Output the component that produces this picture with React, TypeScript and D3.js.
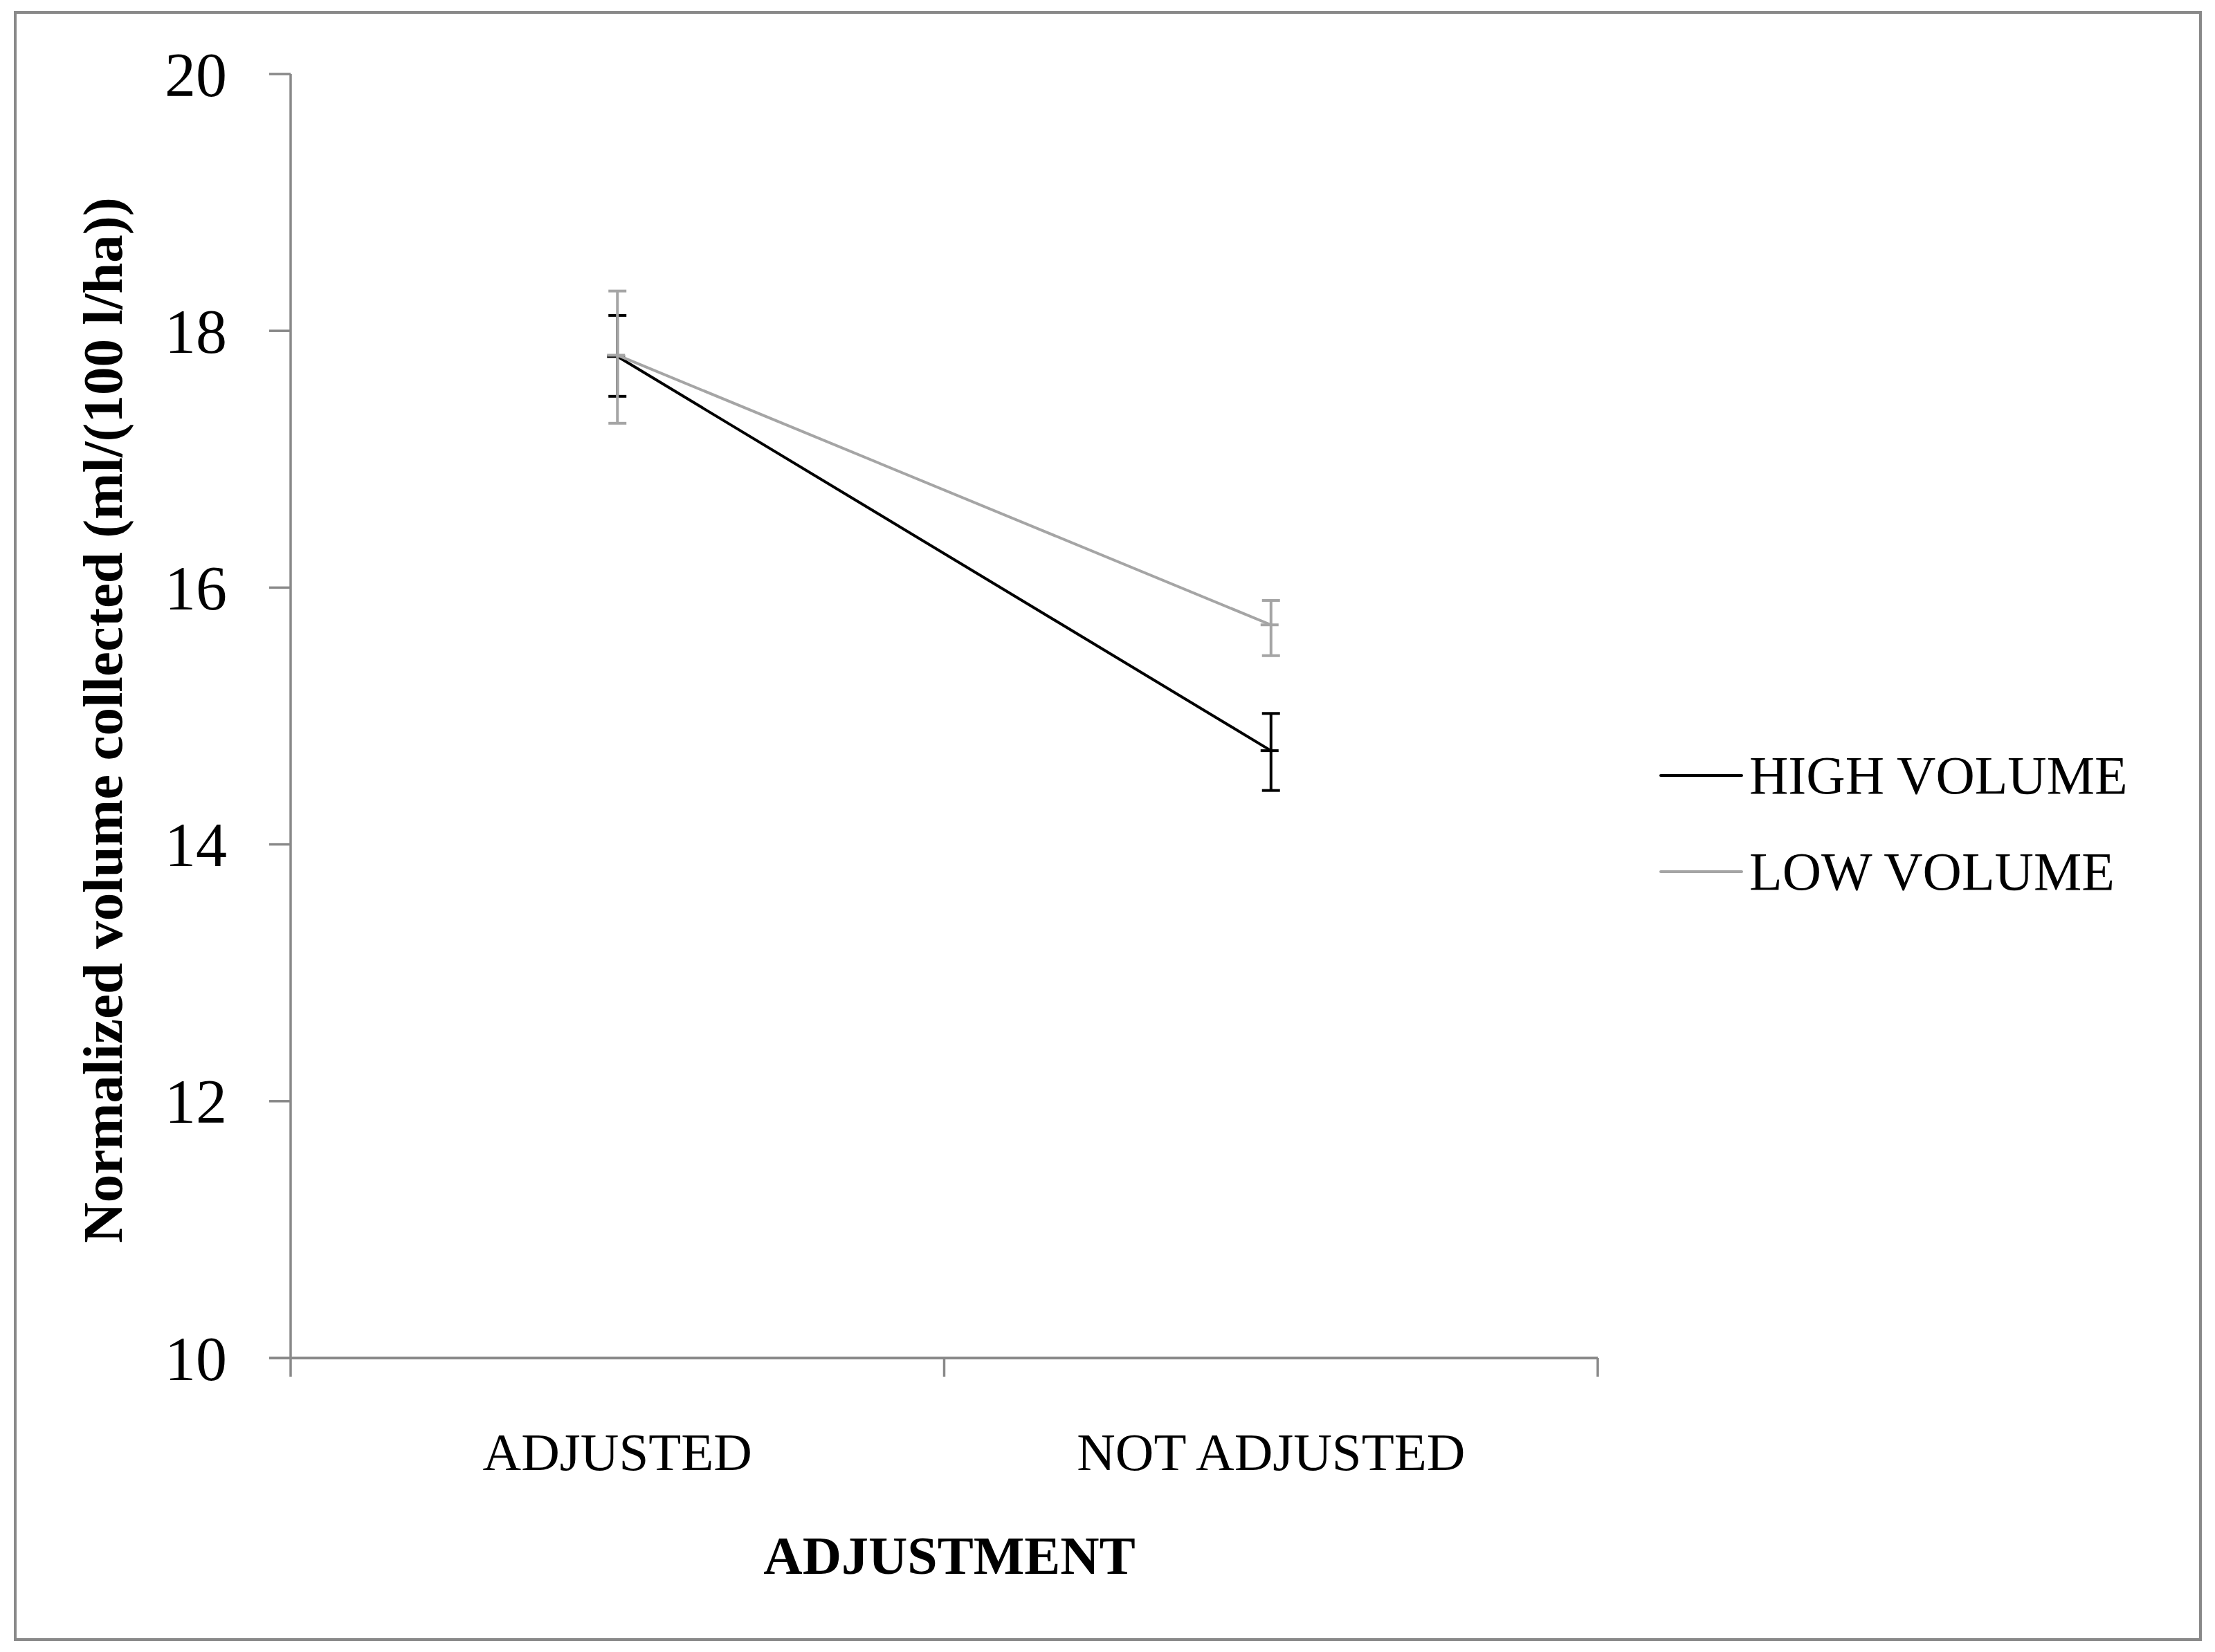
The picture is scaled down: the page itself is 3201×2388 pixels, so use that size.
import React from "react";
import * as d3 from "d3";

// chart data
const categories = ["ADJUSTED", "NOT ADJUSTED"];
const seriesNames = ["HIGH VOLUME", "LOW VOLUME"];
const highMean = [17.8, 14.73];
const highLow = [17.49, 14.42];
const highHigh = [18.12, 15.02];
const lowMean = [17.81, 15.71];
const lowLow = [17.28, 15.47];
const lowHigh = [18.31, 15.9];
const yTicks = [10, 12, 14, 16, 18, 20];

const seriesColors = ["#000000", "#a5a5a5"];
const axisColor = "#898989";

const W = 3201;
const H = 2388;
const plot = { left: 420, right: 2309, top: 107, bottom: 1963 };

export default function App() {
  const series = [
    { name: seriesNames[0], mean: highMean, lo: highLow, hi: highHigh, color: seriesColors[0] },
    { name: seriesNames[1], mean: lowMean, lo: lowLow, hi: lowHigh, color: seriesColors[1] },
  ];

  const x = d3.scaleBand<string>().domain(categories).range([plot.left, plot.right]);
  const cx = (c: string) => (x(c) ?? 0) + x.bandwidth() / 2;
  const y = d3.scaleLinear().domain([10, 20]).range([plot.bottom, plot.top]);

  const line = d3
    .line<number>()
    .x((_, i) => cx(categories[i]))
    .y((d) => y(d));

  // band edges for the category ticks
  const xTickPos = [...categories.map((c) => x(c) ?? 0), plot.right];

  const serif = "'Liberation Serif', 'DejaVu Serif', serif";
  const capW = 13;

  return (
    <div style={{ position: "absolute", left: 0, top: 0 }}>
      <svg width={W} height={H} viewBox={`0 0 ${W} ${H}`} style={{ display: "block", background: "#fff" }}>
        <rect x={22} y={18} width={3158} height={2352} fill="#fff" stroke={axisColor} strokeWidth={4} />

        {/* y axis */}
        <line x1={plot.left} x2={plot.left} y1={plot.top} y2={plot.bottom} stroke={axisColor} strokeWidth={3.5} />
        {yTicks.map((t) => (
          <g key={t}>
            <line x1={plot.left - 31} x2={plot.left} y1={y(t)} y2={y(t)} stroke={axisColor} strokeWidth={3.5} />
            <text x={328} y={y(t)} dy="0.35em" textAnchor="end" fontFamily={serif} fontSize={90} fill="#000">
              {t}
            </text>
          </g>
        ))}

        {/* x axis */}
        <line x1={plot.left - 31} x2={plot.right} y1={plot.bottom} y2={plot.bottom} stroke={axisColor} strokeWidth={4} />
        {xTickPos.map((p, i) => (
          <line key={i} x1={p} x2={p} y1={plot.bottom} y2={plot.bottom + 27} stroke={axisColor} strokeWidth={3.5} />
        ))}
        {categories.map((c) => (
          <text key={c} x={cx(c)} y={2125} textAnchor="middle" fontFamily={serif} fontSize={77} fill="#000">
            {c}
          </text>
        ))}

        {/* axis titles */}
        <text x={1372} y={2275} textAnchor="middle" fontFamily={serif} fontWeight="bold" fontSize={78} fill="#000">
          ADJUSTMENT
        </text>
        <text
          transform={`translate(176,${(plot.top + plot.bottom) / 2 + 6}) rotate(-90)`}
          textAnchor="middle"
          fontFamily={serif}
          fontWeight="bold"
          fontSize={81}
          fill="#000"
        >
          Normalized volume collected (ml/(100 l/ha))
        </text>

        {/* series: lines, error bars, dash markers */}
        {series.map((s) => (
          <g key={s.name}>
            <path d={line(s.mean) ?? ""} fill="none" stroke={s.color} strokeWidth={4} />
            {categories.map((c, i) => (
              <g key={c} stroke={s.color} strokeWidth={4}>
                <line x1={cx(c)} x2={cx(c)} y1={y(s.lo[i])} y2={y(s.hi[i])} />
                <line x1={cx(c) - capW} x2={cx(c) + capW} y1={y(s.hi[i])} y2={y(s.hi[i])} />
                <line x1={cx(c) - capW} x2={cx(c) + capW} y1={y(s.lo[i])} y2={y(s.lo[i])} />
                <line x1={cx(c) - capW - 2} x2={cx(c) + capW - 2} y1={y(s.mean[i])} y2={y(s.mean[i])} />
              </g>
            ))}
          </g>
        ))}

        {/* legend */}
        {series.map((s, i) => (
          <g key={s.name} transform={`translate(2400,${1121 + i * 139})`}>
            <line x1={0} x2={117} y1={0} y2={0} stroke={s.color} strokeWidth={4} strokeLinecap="round" />
            <text x={128} y={26} fontFamily={serif} fontSize={78} fill="#000">
              {s.name}
            </text>
          </g>
        ))}
      </svg>
    </div>
  );
}
